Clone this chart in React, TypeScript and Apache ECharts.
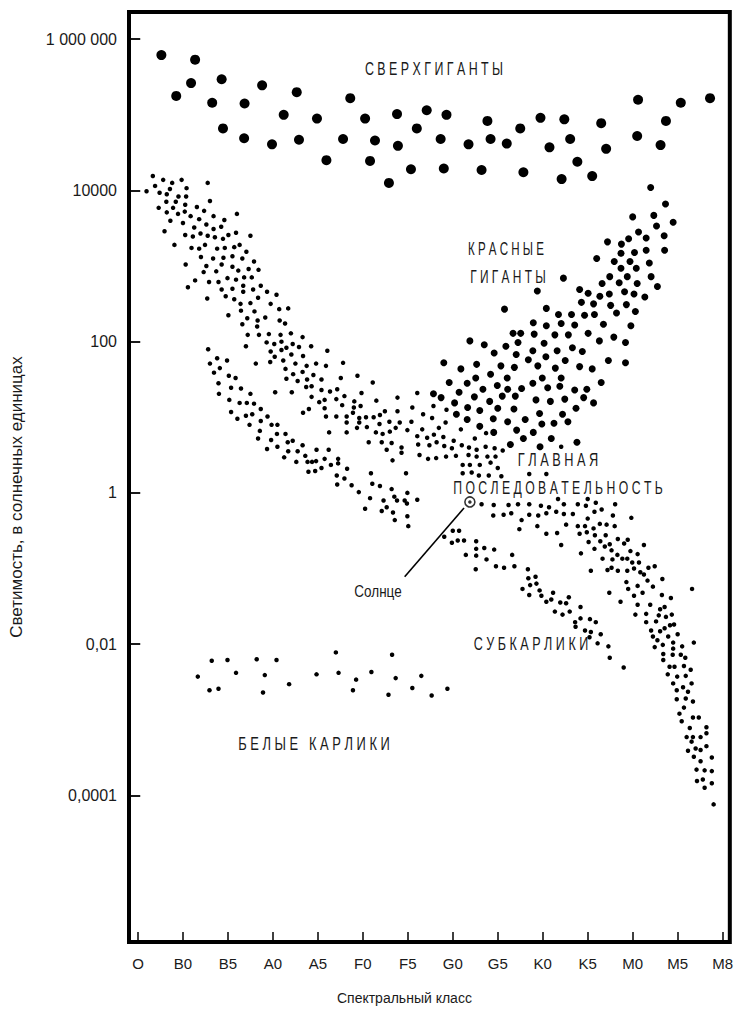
import React, { useEffect, useRef } from "react";
import * as echarts from "echarts";

// Spectral class axis (index positions) and luminosity axis (log10 L / L_sun)
const spectralClasses = ["O", "B0", "B5", "A0", "A5", "F0", "F5", "G0", "G5", "K0", "K5", "M0", "M5", "M8"];
const classTicks = spectralClasses.map((_, i) => i);
const luminosityTicks = [6, 4, 2, 0, -2, -4];
const luminosityLabels = ["1 000 000", "10000", "100", "1", "0,01", "0,0001"];

// [spectral class index, log10 luminosity]
const supergiants = [
  [0.52, 5.79], [1.27, 5.73], [0.85, 5.25], [1.18, 5.42], [1.86, 5.47], [1.65, 5.16], [2.37, 5.15], [1.89, 4.82],
  [2.36, 4.69], [2.76, 5.39], [3.24, 5.0], [2.98, 4.61], [3.53, 5.3], [3.58, 4.67], [3.98, 4.95], [4.19, 4.4],
  [4.56, 4.68], [4.72, 5.22], [5.05, 4.95], [5.16, 4.39], [5.27, 4.66], [5.76, 5.01], [5.78, 4.59], [5.58, 4.1],
  [6.2, 4.82], [6.42, 5.06], [6.07, 4.28], [6.73, 4.68], [6.86, 5.0], [6.8, 4.29], [7.35, 4.61], [7.64, 4.27],
  [7.77, 4.92], [7.84, 4.68], [8.2, 4.62], [8.5, 4.82], [8.57, 4.24], [8.95, 4.96], [9.15, 4.57], [9.48, 4.94],
  [9.61, 4.68], [9.77, 4.38], [9.42, 4.15], [10.1, 4.19], [10.3, 4.89], [10.41, 4.55], [11.12, 5.2], [11.1, 4.72],
  [11.62, 4.6], [11.74, 4.92], [12.07, 5.16], [12.72, 5.22],
];

const redGiants = [
  [8.88, 2.67], [8.15, 2.43], [9.08, 2.44], [9.35, 2.36], [9.64, 2.36], [8.79, 2.25], [9.08, 2.21], [9.41, 2.24],
  [9.71, 2.22], [8.34, 2.11], [8.51, 2.11], [8.81, 2.1], [9.27, 2.09], [9.57, 2.09], [7.38, 2.01], [7.7, 1.96],
  [8.45, 1.99], [9.03, 1.98], [7.92, 1.85], [8.18, 1.94], [8.41, 1.83], [8.78, 1.88], [9.32, 1.88], [9.66, 1.92],
  [6.8, 1.72], [7.18, 1.64], [7.53, 1.7], [7.84, 1.57], [8.07, 1.68], [8.37, 1.66], [8.68, 1.76], [8.89, 1.68],
  [9.07, 1.8], [9.28, 1.65], [9.5, 1.75], [6.92, 1.46], [7.32, 1.45], [7.51, 1.52], [7.67, 1.37], [7.99, 1.42],
  [8.21, 1.52], [8.22, 1.37], [8.53, 1.38], [8.78, 1.45], [8.99, 1.52], [9.11, 1.39], [9.38, 1.41], [9.41, 1.52],
  [9.71, 1.36], [6.57, 1.31], [6.74, 1.26], [7.04, 1.19], [7.14, 1.33], [7.33, 1.13], [7.48, 1.27], [7.6, 1.09],
  [7.82, 1.21], [8.0, 1.12], [8.1, 1.28], [8.36, 1.11], [8.39, 1.28], [8.85, 1.23], [9.17, 1.21], [9.49, 1.24],
  [9.74, 1.12], [7.08, 1.04], [7.32, 0.97], [7.6, 0.88], [7.9, 0.98], [7.91, 0.8], [8.22, 0.94], [8.61, 0.97],
  [8.42, 0.83], [8.98, 0.91], [9.25, 0.92], [9.56, 0.94], [9.44, 1.04], [8.93, 1.05], [8.57, 0.72], [8.28, 0.64],
  [8.79, 0.8], [9.19, 0.72], [8.94, 0.61], [9.76, 0.67],
  [11.4, 4.04], [11.73, 3.82], [11.0, 3.65], [11.47, 3.67], [11.9, 3.58], [11.53, 3.53], [11.13, 3.45], [11.3, 3.37],
  [11.7, 3.4], [10.91, 3.36], [10.75, 3.29], [10.44, 3.32], [11.71, 3.21], [11.3, 3.21], [11.04, 3.18], [10.74, 3.17],
  [10.2, 3.1], [10.59, 3.06], [10.94, 3.06], [11.37, 3.04], [10.74, 2.97], [11.08, 2.97], [9.46, 2.84], [10.49, 2.86],
  [10.88, 2.86], [11.41, 2.86], [10.32, 2.77], [10.7, 2.78], [11.1, 2.77], [11.55, 2.73], [9.82, 2.69], [10.01, 2.64],
  [10.27, 2.6], [10.48, 2.63], [10.82, 2.66], [11.03, 2.63], [11.27, 2.59], [9.86, 2.52], [10.13, 2.5], [10.51, 2.48],
  [10.86, 2.49], [10.64, 2.38], [11.06, 2.4], [9.93, 2.35], [10.15, 2.36], [10.35, 2.23], [10.96, 2.21], [10.01, 2.11],
  [10.26, 2.01], [10.58, 2.06], [10.84, 1.99], [9.88, 1.87], [9.82, 1.67], [10.1, 1.64], [10.46, 1.75], [10.84, 1.72],
  [10.3, 1.46], [9.98, 1.37], [9.91, 1.26], [10.13, 1.19],
];

const mainSequence = [
  [0.33, 4.19], [0.56, 4.14], [0.76, 4.1], [0.97, 4.14], [1.55, 4.1], [0.19, 3.99], [0.38, 4.06], [0.48, 3.97],
  [0.64, 3.95], [0.71, 4.02], [0.9, 3.92], [1.08, 4.03], [1.07, 3.92], [0.63, 3.85], [0.84, 3.85], [1.05, 3.81],
  [1.6, 3.86], [0.46, 3.77], [0.78, 3.77], [0.64, 3.71], [0.89, 3.69], [1.04, 3.72], [1.17, 3.66], [1.31, 3.78],
  [1.47, 3.73], [1.68, 3.66], [1.92, 3.61], [2.2, 3.69], [0.72, 3.6], [1.0, 3.57], [1.36, 3.62], [1.25, 3.51],
  [1.52, 3.55], [1.68, 3.49], [1.85, 3.52], [0.59, 3.46], [1.05, 3.41], [1.22, 3.39], [1.39, 3.43], [1.55, 3.4],
  [1.71, 3.38], [1.89, 3.36], [2.01, 3.41], [2.18, 3.44], [2.5, 3.4], [0.81, 3.28], [1.19, 3.24], [1.36, 3.23],
  [1.49, 3.28], [1.76, 3.23], [1.93, 3.24], [2.14, 3.25], [2.26, 3.28], [2.41, 3.19], [1.4, 3.12], [1.67, 3.1],
  [1.9, 3.11], [2.1, 3.13], [2.32, 3.1], [2.58, 3.06], [1.06, 3.02], [1.52, 3.0], [1.86, 3.02], [1.46, 2.92],
  [1.74, 2.93], [2.1, 2.99], [2.23, 2.94], [2.46, 2.96], [2.68, 2.95], [1.27, 2.81], [1.58, 2.79], [1.79, 2.79],
  [1.99, 2.84], [2.18, 2.82], [2.36, 2.85], [2.53, 2.85], [1.11, 2.72], [1.86, 2.69], [2.1, 2.7], [2.34, 2.74],
  [2.34, 2.66], [2.56, 2.69], [2.73, 2.74], [2.87, 2.66], [3.08, 2.62], [1.54, 2.57], [1.95, 2.6], [2.14, 2.56],
  [2.28, 2.5], [2.5, 2.51], [2.67, 2.58], [2.95, 2.5], [2.01, 2.35], [2.29, 2.41], [2.59, 2.4], [3.14, 2.43],
  [3.34, 2.44], [2.32, 2.23], [2.43, 2.31], [2.66, 2.28], [2.65, 2.2], [2.83, 2.32], [3.15, 2.28], [3.27, 2.24],
  [2.44, 2.09], [2.69, 2.09], [2.91, 2.1], [3.17, 2.09], [3.4, 2.11], [3.66, 2.06], [2.4, 1.94], [2.86, 1.99],
  [3.03, 1.97], [3.19, 2.0], [3.3, 1.92], [3.44, 1.97], [3.58, 1.93], [3.85, 1.94], [4.21, 1.88], [2.95, 1.87],
  [3.19, 1.89], [3.41, 1.83], [3.04, 1.8], [3.23, 1.75], [3.67, 1.81], [3.5, 1.71], [3.75, 1.68], [3.96, 1.71],
  [4.18, 1.68], [2.62, 1.71], [2.94, 1.73], [3.28, 1.64], [3.45, 1.57], [3.66, 1.6], [3.9, 1.56], [3.3, 1.51],
  [3.55, 1.48], [3.76, 1.5], [4.08, 1.5], [3.05, 1.33], [3.42, 1.33], [3.74, 1.4], [3.86, 1.41], [4.08, 1.36],
  [4.27, 1.34], [3.86, 1.27], [4.03, 1.2], [4.15, 1.23], [3.67, 1.06], [3.8, 1.11], [4.15, 1.12], [4.18, 1.01],
  [4.25, 0.8],
  [4.56, 1.72], [4.51, 1.52], [4.88, 1.55], [5.22, 1.46], [4.43, 1.37], [4.59, 1.28], [4.41, 1.24], [4.54, 1.16],
  [4.81, 1.21], [4.97, 1.32], [4.8, 1.13], [4.95, 1.15], [5.3, 1.22], [4.78, 1.06], [4.64, 1.01], [4.41, 1.01],
  [4.92, 0.99], [5.07, 1.0], [5.24, 1.0], [5.38, 1.03], [5.49, 1.08], [5.77, 1.26], [5.77, 1.08], [4.64, 0.93],
  [4.92, 0.93], [5.37, 0.91], [5.59, 0.94], [5.82, 0.93], [4.87, 0.86], [5.09, 0.87], [5.29, 0.8], [4.64, 0.8],
  [5.44, 0.78], [5.6, 0.81], [5.73, 0.86], [5.99, 0.83], [5.13, 0.67], [5.42, 0.67], [5.64, 0.66], [5.86, 0.6],
  [5.86, 0.53], [5.53, 0.57], [5.66, 0.43],
  [6.21, 1.32], [6.1, 1.13], [6.34, 1.04], [6.57, 1.15], [6.54, 0.99], [6.86, 1.1], [6.08, 0.94], [6.32, 0.84],
  [6.69, 0.86], [6.84, 0.93], [7.18, 0.84], [6.21, 0.75], [6.43, 0.73], [6.58, 0.77], [6.79, 0.74], [7.02, 0.69],
  [7.49, 0.72], [7.74, 0.79], [6.23, 0.64], [6.48, 0.63], [6.64, 0.67], [6.81, 0.62], [6.98, 0.59], [7.2, 0.63],
  [7.36, 0.6], [7.53, 0.57], [7.73, 0.61], [7.93, 0.59], [8.11, 0.56], [9.41, 0.61], [6.26, 0.5], [6.45, 0.45],
  [6.63, 0.46], [6.85, 0.48], [7.07, 0.49], [7.35, 0.5], [7.53, 0.48], [7.77, 0.48], [7.95, 0.48],
  [7.84, 0.4], [7.22, 0.37], [7.38, 0.37], [7.6, 0.37], [8.0, 0.33], [7.22, 0.26], [7.42, 0.27], [7.58, 0.23],
  [7.8, 0.23], [8.08, 0.22], [8.7, 0.25], [9.08, 0.25], [7.64, -0.15], [7.91, -0.16], [8.24, -0.16], [8.45, -0.15],
  [8.7, -0.15], [8.96, -0.17], [9.14, -0.19], [9.34, -0.08], [9.47, -0.15], [9.78, -0.15], [7.9, -0.3], [8.13, -0.29],
  [8.3, -0.27], [8.53, -0.36], [8.7, -0.29], [8.9, -0.3], [9.08, -0.27], [9.3, -0.25], [9.47, -0.28], [9.67, -0.28],
  [10.0, -0.08], [10.18, -0.13],
  [8.48, -0.48], [8.88, -0.44], [9.08, -0.54], [9.32, -0.53], [9.41, -0.69], [9.52, -0.42],
  [9.96, -0.17], [10.15, -0.25], [10.31, -0.22], [10.61, -0.15], [10.0, -0.34], [10.56, -0.3], [10.97, -0.33],
  [9.78, -0.44], [9.94, -0.44], [10.13, -0.47], [10.27, -0.41], [10.42, -0.42], [10.6, -0.44], [9.82, -0.54],
  [9.98, -0.52], [10.16, -0.56], [10.4, -0.56], [10.02, -0.65], [10.28, -0.64], [10.49, -0.68], [10.67, -0.61],
  [10.81, -0.67], [10.89, -0.62], [11.25, -0.69], [10.15, -0.74], [10.38, -0.71], [10.53, -0.76], [10.66, -0.82],
  [10.95, -0.77], [11.11, -0.81], [9.85, -0.8], [10.33, -0.87], [10.55, -0.88], [10.77, -0.87], [10.88, -0.87],
  [10.99, -0.92], [11.14, -0.92], [11.35, -0.99], [11.49, -0.97], [10.07, -1.03], [10.44, -1.02], [10.53, -0.99],
  [10.67, -1.03], [10.88, -1.03], [11.03, -1.0], [11.17, -1.05], [11.25, -1.08], [11.33, -1.16], [11.66, -1.14],
  [10.86, -1.18], [10.9, -1.27], [11.11, -1.23], [11.45, -1.24], [11.22, -1.32], [11.03, -1.36], [10.48, -1.32],
  [10.73, -1.44], [11.65, -1.35], [11.85, -1.39], [12.32, -1.27], [11.11, -1.48], [11.3, -1.6], [11.39, -1.48],
  [11.61, -1.54], [11.71, -1.51], [11.58, -1.62], [11.06, -1.61], [11.74, -1.64], [11.87, -1.61], [11.3, -1.71],
  [11.52, -1.7], [11.71, -1.79], [11.83, -1.75], [11.92, -1.74], [11.41, -1.82], [11.61, -1.83], [11.79, -1.9],
  [12.0, -1.87], [11.45, -1.9], [11.55, -1.95], [11.67, -2.01], [11.9, -1.98], [12.1, -2.03], [11.9, -2.06],
  [11.49, -2.04], [11.68, -2.13], [11.89, -2.14], [12.07, -2.14], [12.17, -2.18], [11.68, -2.21], [12.36, -1.98],
  [11.82, -2.3], [11.93, -2.3], [12.14, -2.29], [12.29, -2.34], [11.78, -2.4], [11.99, -2.43], [12.18, -2.42],
  [11.9, -2.52], [12.12, -2.57], [12.31, -2.52], [11.98, -2.61], [12.23, -2.63], [11.98, -2.73], [12.18, -2.72],
  [12.34, -2.76], [12.14, -2.84], [12.04, -2.92], [12.34, -2.97], [12.09, -3.02], [12.47, -2.97], [12.27, -3.11],
  [12.34, -3.23], [12.51, -3.23], [12.64, -3.1], [12.64, -3.18], [12.2, -3.23], [12.31, -3.29], [12.4, -3.38],
  [12.23, -3.41], [12.51, -3.4], [12.64, -3.35], [12.76, -3.5], [12.36, -3.49], [12.51, -3.55], [12.42, -3.66],
  [12.6, -3.67], [12.76, -3.68], [12.43, -3.81], [12.56, -3.79], [12.76, -3.84], [12.6, -3.9], [12.8, -4.12],
];

const subdwarfs = [
  [1.56, 1.9], [1.76, 1.78], [1.98, 1.75], [1.6, 1.71], [1.82, 1.65], [1.69, 1.59], [2.02, 1.55], [2.17, 1.52],
  [1.79, 1.45], [2.07, 1.39], [2.29, 1.38], [2.5, 1.31], [1.8, 1.31], [2.03, 1.23], [2.26, 1.19], [2.42, 1.19],
  [2.58, 1.18], [2.73, 1.11], [2.07, 1.07], [2.21, 0.98], [2.4, 1.02], [2.54, 1.04], [2.88, 1.01], [2.48, 0.9],
  [2.73, 0.95], [2.97, 0.9], [3.1, 0.9], [2.71, 0.82], [2.96, 0.7], [3.09, 0.78], [3.28, 0.78], [2.67, 0.72],
  [2.87, 0.58], [3.1, 0.61], [3.33, 0.67], [3.44, 0.69], [3.66, 0.63], [3.25, 0.47], [3.34, 0.55], [3.55, 0.55],
  [3.72, 0.49], [3.52, 0.41], [3.77, 0.41], [3.87, 0.41], [3.96, 0.42], [3.97, 0.57], [4.24, 0.57], [4.15, 0.45],
  [4.08, 0.33], [3.79, 0.28], [3.94, 0.29],
  [4.29, 0.37], [4.45, 0.39], [4.45, 0.45], [4.42, 0.23], [4.65, 0.32], [4.59, 0.19], [4.43, 0.11], [4.75, 0.1],
  [4.91, 0.01], [5.18, 0.26], [5.21, 0.12], [5.38, 0.09], [5.64, 0.05], [5.7, -0.05], [5.99, 0.0], [5.96, 0.26],
  [5.16, -0.07], [5.46, -0.1], [5.76, -0.1], [5.93, -0.1], [6.21, -0.09],
  [5.05, -0.21], [5.53, -0.19], [5.42, -0.24], [5.67, -0.26], [5.71, -0.36], [5.98, -0.14], [5.99, -0.31], [6.01, -0.44],
  [7.0, -0.5], [7.14, -0.5], [6.81, -0.58], [6.98, -0.66], [7.11, -0.63], [7.25, -0.63], [7.29, -0.82], [7.52, -0.64],
  [7.52, -0.74], [7.52, -0.83], [7.7, -0.73], [7.75, -0.88], [7.92, -0.75], [7.51, -1.01], [7.96, -0.97], [8.14, -0.99],
  [8.32, -0.82], [8.37, -0.97], [8.67, -1.01], [8.68, -1.13], [8.84, -1.11], [8.72, -1.22], [8.86, -1.2], [8.55, -1.27],
  [8.93, -1.29], [8.7, -1.35], [8.97, -1.36], [9.23, -1.32], [9.08, -1.44], [9.19, -1.41], [9.39, -1.45], [9.58, -1.38],
  [9.27, -1.57], [9.44, -1.61], [9.52, -1.46], [9.6, -1.57], [9.72, -1.71], [9.73, -1.77],
  [9.84, -1.51], [9.84, -1.66], [10.05, -1.67], [10.18, -1.71], [9.94, -1.82], [10.07, -1.84], [10.29, -1.87],
  [10.04, -1.91], [10.22, -1.99], [10.46, -2.03], [10.49, -2.18], [10.8, -2.31],
];

const whiteDwarfs = [
  [1.33, -2.43], [1.64, -2.22], [1.59, -2.61], [1.79, -2.59], [1.99, -2.21], [2.18, -2.38], [2.64, -2.2], [2.82, -2.41],
  [2.78, -2.64], [3.08, -2.21], [3.36, -2.53], [3.97, -2.4], [4.4, -2.11], [4.46, -2.38], [4.78, -2.61], [4.85, -2.47],
  [5.19, -2.37], [5.65, -2.14], [5.73, -2.45], [5.57, -2.67], [6.1, -2.58], [6.3, -2.42], [6.53, -2.68], [6.88, -2.59],
];

const sun = [[7.38, -0.12]];
const sunPointer = [[7.25, -0.2], [5.93, -1.11]];

// left edge of the plot and the end of the inward luminosity ticks, in class units
const X_MIN = -0.2;
const X_MAX = 13.16;
const Y_TICK_END = 0.05;

const SANS = "'Liberation Sans', Arial, sans-serif";
const INK = "#1a1a1a";

function spaced(s: string) {
  return s.split("").join(" ");
}

function note(text: string, x: number, y: number, size: number, sx: number, sy: number) {
  return {
    type: "text",
    x,
    y,
    scaleX: sx,
    scaleY: sy,
    z: 20,
    style: {
      text,
      fill: INK,
      fontSize: size,
      fontFamily: SANS,
      textAlign: "center",
      textVerticalAlign: "middle",
    },
  };
}

export default function App() {
  const ref = useRef<HTMLDivElement>(null);

  useEffect(() => {
    document.body.style.margin = "0";
    if (!ref.current) return;
    const chart = echarts.init(ref.current, null, { renderer: "svg" });

    const dotSeries = (name: string, data: number[][], size: number) => ({
      name,
      type: "scatter",
      data,
      symbol: "circle",
      symbolSize: size,
      itemStyle: { color: "#000", opacity: 1 },
      z: 3,
    });

    chart.setOption({
      animation: false,
      backgroundColor: "#fff",
      grid: {
        left: 126,
        right: 2,
        top: 12,
        bottom: 70,
        show: true,
        borderColor: "#000",
        borderWidth: 4,
        containLabel: false,
      },
      xAxis: {
        type: "value",
        min: X_MIN,
        max: X_MAX,
        name: "Спектральный класс",
        nameLocation: "middle",
        nameGap: 49,
        nameTextStyle: { color: INK, fontSize: 14, fontFamily: SANS, padding: [0, 50, 0, 0] },
        axisLine: { show: false, onZero: false },
        splitLine: { show: false },
        axisTick: {
          show: true,
          inside: true,
          length: 10,
          customValues: classTicks,
          lineStyle: { color: "#000", width: 1.5 },
        },
        axisLabel: {
          customValues: classTicks,
          formatter: (v: number) => spectralClasses[Math.round(v)] ?? "",
          color: INK,
          fontSize: 15,
          fontFamily: SANS,
          margin: 14,
        },
      },
      yAxis: {
        type: "value",
        min: -5.94,
        max: 6.36,
        name: "Светимость, в солнечных единицах",
        nameLocation: "middle",
        nameGap: 104,
        nameRotate: 90,
        nameTextStyle: { color: INK, fontSize: 17, fontFamily: SANS, padding: [0, 40, 0, 0] },
        axisLine: { show: false, onZero: false },
        splitLine: { show: false },
        axisTick: { show: false },
        axisLabel: {
          customValues: luminosityTicks,
          formatter: (v: number) => {
            const i = luminosityTicks.indexOf(Math.round(v));
            return i >= 0 ? luminosityLabels[i] : "";
          },
          color: INK,
          fontSize: 16,
          fontFamily: SANS,
          margin: 12,
        },
      },
      series: [
        {
          name: "Деления оси",
          type: "line",
          data: [],
          z: 8,
          markLine: {
            silent: true,
            symbol: ["none", "none"],
            animation: false,
            label: { show: false },
            lineStyle: { color: "#000", width: 1.8, type: "solid", opacity: 1 },
            emphasis: { disabled: true },
            data: luminosityTicks.map((v) => [{ coord: [X_MIN, v] }, { coord: [Y_TICK_END, v] }]),
          },
        },
        dotSeries("Сверхгиганты", supergiants, 10),
        dotSeries("Красные гиганты", redGiants, 7),
        dotSeries("Главная последовательность", mainSequence, 4.5),
        dotSeries("Субкарлики", subdwarfs, 4.5),
        dotSeries("Белые карлики", whiteDwarfs, 4.5),
        {
          name: "Солнце-линия",
          type: "line",
          data: sunPointer,
          symbol: "none",
          lineStyle: { color: "#000", width: 1.6 },
          z: 5,
        },
        {
          name: "Солнце",
          type: "scatter",
          data: sun,
          symbol: "circle",
          symbolSize: 10,
          itemStyle: { color: "#fff", borderColor: "#000", borderWidth: 1.6 },
          z: 6,
        },
        {
          name: "Солнце-центр",
          type: "scatter",
          data: sun,
          symbol: "circle",
          symbolSize: 3.5,
          itemStyle: { color: "#000" },
          z: 7,
        },
      ],
      graphic: [
        note(spaced("СВЕРХГИГАНТЫ"), 434, 69, 17, 0.73, 1.1),
        note(spaced("КРАСНЫЕ"), 506, 248, 17, 0.68, 1.1),
        note(spaced("ГИГАНТЫ"), 508, 276, 17, 0.7, 1.1),
        note(spaced("ГЛАВНАЯ"), 558, 460, 17, 0.75, 1.1),
        note(spaced("ПОСЛЕДОВАТЕЛЬНОСТЬ"), 558, 487, 17, 0.72, 1.1),
        note("Солнце", 378, 591, 15, 0.9, 1.1),
        note(spaced("СУБКАРЛИКИ"), 531, 644, 17, 0.74, 1.1),
        note(spaced("БЕЛЫЕ КАРЛИКИ"), 314, 743, 17, 0.76, 1.1),
      ],
    });

    return () => chart.dispose();
  }, []);

  return <div ref={ref} style={{ width: 736, height: 1012 }} />;
}
